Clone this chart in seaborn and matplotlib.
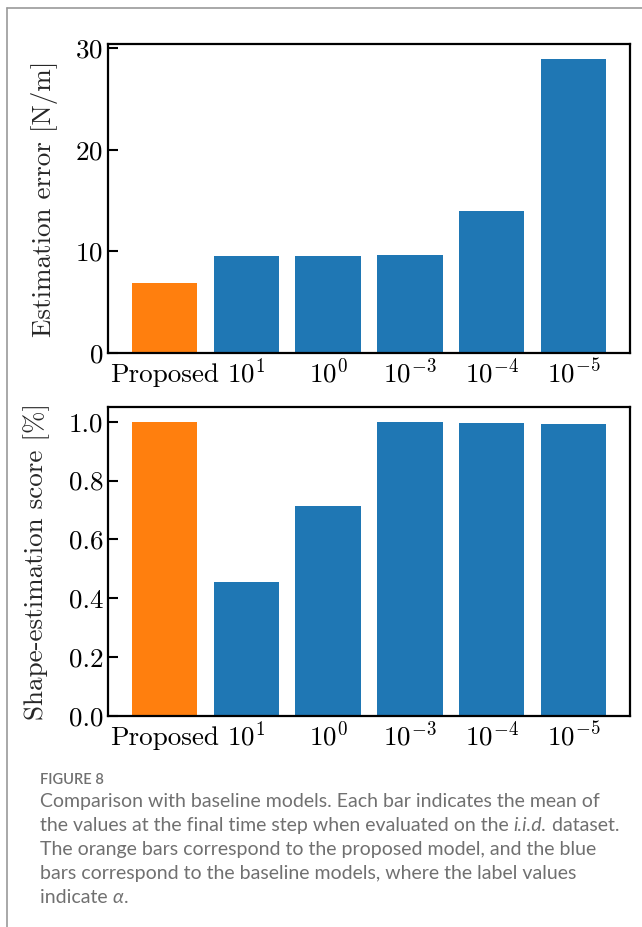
import matplotlib
matplotlib.use("Agg")
import matplotlib.pyplot as plt
from matplotlib.lines import Line2D
import seaborn as sns
import pandas as pd

# Model labels (alpha values of the baselines) and their metrics
models = ["Proposed", "$10^{1}$", "$10^{0}$", "$10^{-3}$", "$10^{-4}$", "$10^{-5}$"]
groups = ["proposed", "baseline", "baseline", "baseline", "baseline", "baseline"]
estimation_error = [6.9, 9.55, 9.55, 9.65, 13.95, 28.95]
shape_score = [1.0, 0.454, 0.715, 1.0, 0.997, 0.993]

colors = {"proposed": "#ff7f0e", "baseline": "#1f77b4"}

sns.set_theme(style="white")
plt.rcParams.update({
    "font.family": "serif",
    "font.serif": ["cmr10", "DejaVu Serif"],
    "mathtext.fontset": "cm",
    "axes.formatter.use_mathtext": True,
    "axes.unicode_minus": False,
    "font.size": 19.5,
})

FS = 19.5
df = pd.DataFrame({"model": models, "group": groups,
                   "error": estimation_error, "score": shape_score})

W, H = 642, 927
fig = plt.figure(figsize=(W / 100, H / 100), dpi=100)


def px_axes(left, top, right, bottom):
    return fig.add_axes([left / W, 1 - bottom / H, (right - left) / W, (bottom - top) / H])


ax1 = px_axes(108, 44, 630, 353)
ax2 = px_axes(108, 407, 630, 716)

for ax, col, label, lx in [(ax1, "error", "Estimation error [N/m]", -0.096),
                           (ax2, "score", "Shape-estimation score [%]", -0.111)]:
    sns.barplot(data=df, x="model", y=col, hue="group", palette=colors,
                dodge=False, legend=False, width=0.8, saturation=1,
                linewidth=0, ax=ax)
    ax.set_xlim(-0.69, 5.69)
    ax.set_xlabel("")
    ax.set_ylabel(label, fontsize=FS)
    ax.yaxis.set_label_coords(lx, 0.5)
    ax.tick_params(axis="both", direction="in", length=7, width=1.5,
                   labelsize=FS, left=True, bottom=True, top=False, right=False,
                   colors="black")
    ax.set_xticks(range(len(models)))
    ax.set_xticklabels(models, va="baseline", fontsize=FS)
    ax.tick_params(axis="x", pad=21)
    for s in ax.spines.values():
        s.set_linewidth(1.6)
        s.set_color("black")
        s.set_visible(True)

ax1.set_ylim(0, 30.4)
ax1.set_yticks([0, 10, 20, 30])
ax2.set_ylim(0, 1.05)
ax2.set_yticks([0.0, 0.2, 0.4, 0.6, 0.8, 1.0])
ax2.set_yticklabels(["0.0", "0.2", "0.4", "0.6", "0.8", "1.0"])

# page frame lines
fig.add_artist(Line2D([7 / W, 1], [1 - 8 / H, 1 - 8 / H], color="#9a9a9a", lw=1.2))
fig.add_artist(Line2D([7 / W, 7 / W], [0, 1 - 8 / H], color="#9a9a9a", lw=1.2))

# caption
CX = 40
cap_font = dict(family=["Lato", "DejaVu Sans"], color="#707070")
fig.text(CX / W, 1 - 784 / H, "FIGURE 8", fontsize=10.5, va="baseline",
         fontweight="semibold", **cap_font)

renderer = fig.canvas.get_renderer()


def caption_line(y, pieces):
    x = CX
    for txt, style in pieces:
        t = fig.text(x / W, 1 - y / H, txt, fontsize=14, va="baseline",
                     style=style, fontweight="normal", **cap_font)
        bb = t.get_window_extent(renderer=renderer)
        x += bb.width


caption_line(807, [("Comparison with baseline models. Each bar indicates the mean of", "normal")])
caption_line(831, [("the values at the final time step when evaluated on the ", "normal"),
                   ("i.i.d.", "italic"), (" dataset.", "normal")])
caption_line(855, [("The orange bars correspond to the proposed model, and the blue", "normal")])
caption_line(879, [("bars correspond to the baseline models, where the label values", "normal")])
caption_line(903, [("indicate ", "normal"), ("α", "italic"), (".", "normal")])

fig.savefig("out.png", dpi=100)
